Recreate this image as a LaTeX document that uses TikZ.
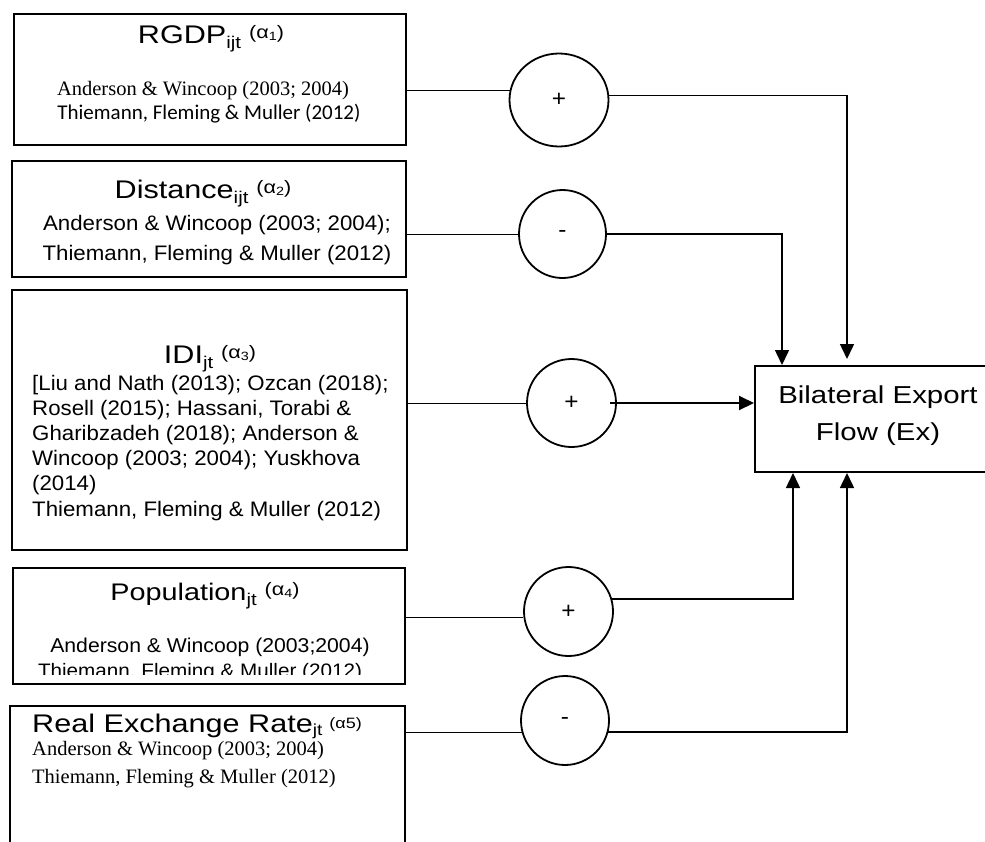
\documentclass[tikz,border=0pt]{standalone}
\usepackage{fontspec}
\setmainfont{Liberation Sans}[FakeStretch=1.06]
\newfontfamily\titlefont{Liberation Sans}[FakeStretch=1.2]
\newfontfamily\timesfont{Liberation Serif}
\newfontfamily\calibfont{Carlito}
\usetikzlibrary{arrows.meta, shapes.geometric}

\newcommand{\fsz}[1]{\fontsize{#1}{#1}\selectfont}
% variable name, its index and its coefficient
\newcommand{\varname}[3]{#1\raisebox{-5pt}{\fsz{17}#2}\hspace{8pt}\raisebox{4.5pt}{\fsz{18}(α\raisebox{-2pt}{\fsz{12}#3})}}

\begin{document}
\begin{tikzpicture}[x=1pt, y=-1pt,
    varbox/.style={draw, rectangle, line width=2pt, inner sep=0pt},
    sign/.style={draw, ellipse, line width=1.8pt, inner sep=0pt, font=\fsz{23}},
    txt/.style={anchor=base, inner sep=0pt},
    txtl/.style={anchor=base west, inner sep=0pt},
    title/.style={font=\titlefont\fsz{25.5}},
    link/.style={line width=0.9pt},
    flow/.style={line width=1.5pt, -{Triangle[length=15pt, width=14pt]}}]
    \useasboundingbox (0,0) rectangle (985,841);
    \clip (0,0) rectangle (985,841);

    % RGDP
    \node[varbox, minimum width=392pt, minimum height=131pt] (rgdp) at (210,79.5) {};
    \node[txt, title] (rgdptitle) at (211,43) {\varname{RGDP}{ijt}{1}};
    \node[txt, font=\timesfont\fsz{20.5}] (rgdpref1) at (203,95) {Anderson \& Wincoop (2003; 2004)};
    \node[txt, font=\calibfont\fsz{21}] (rgdpref2) at (209,119.5) {Thiemann, Fleming \& Muller (2012)};

    % Distance
    \node[varbox, minimum width=394pt, minimum height=116pt] (dist) at (209,219) {};
    \node[txt, title] (disttitle) at (203,198) {\varname{Distance}{ijt}{2}};
    \node[txt, font=\fsz{21}] (distref1) at (217,230) {Anderson \& Wincoop (2003; 2004);};
    \node[txt, font=\fsz{21}] (distref2) at (217,260) {Thiemann, Fleming \& Muller (2012)};

    % IDI
    \node[varbox, minimum width=395pt, minimum height=260pt] (idi) at (209.5,420) {};
    \node[txt, title] (idititle) at (210,363) {\varname{IDI}{jt}{3}};
    \node[txtl, font=\fsz{21}] (idiref1) at (32,390) {[Liu and Nath (2013); Ozcan (2018);};
    \node[txtl, font=\fsz{21}] (idiref2) at (32,415) {Rosell (2015); Hassani, Torabi \&};
    \node[txtl, font=\fsz{21}] (idiref3) at (32,440) {Gharibzadeh (2018); Anderson \&};
    \node[txtl, font=\fsz{21}] (idiref4) at (32,465) {Wincoop (2003; 2004); Yuskhova};
    \node[txtl, font=\fsz{21}] (idiref5) at (32,490) {(2014)};
    \node[txtl, font=\fsz{21}] (idiref6) at (32,516) {Thiemann, Fleming \& Muller (2012)};

    % Population
    \node[varbox, minimum width=392pt, minimum height=116pt] (pop) at (209,626) {};
    \node[txt, title, font=\titlefont\fsz{24}] (poptitle) at (205,600) {\varname{Population}{jt}{4}};
    \node[txt, font=\fsz{20}] (popref1) at (210,652) {Anderson \& Wincoop (2003;2004)};
    \begin{scope}
        \clip (0,560) rectangle (985,674);
        \node[txt, font=\fsz{19.5}] (popref2) at (200,677) {Thiemann, Fleming \& Muller (2012)};
    \end{scope}

    % Real exchange rate
    \node[varbox, minimum width=395pt, minimum height=154pt] (rer) at (207.5,783) {};
    \node[txtl, title] (rertitle) at (32,732) {Real Exchange Rate\raisebox{-3pt}{\fsz{16}jt}\hspace{7pt}\raisebox{4pt}{\fsz{15}(α5)}};
    \node[txtl, font=\timesfont\fsz{20.5}] (rerref1) at (32,755) {Anderson \& Wincoop (2003; 2004)};
    \node[txtl, font=\timesfont\fsz{20.5}] (rerref2) at (32,783) {Thiemann, Fleming \& Muller (2012)};

    % Bilateral export flow
    \node[varbox, minimum width=250pt, minimum height=106pt] (ex) at (880,419) {};
    \node[txt, font=\titlefont\fsz{24.5}] (extitle1) at (878,403) {Bilateral Export};
    \node[txt, font=\titlefont\fsz{24.5}] (extitle2) at (878,440) {Flow (Ex)};

    % signs
    \node[sign, minimum width=99pt, minimum height=93pt] (c1) at (559,100) {+};
    \node[sign, minimum width=87pt, minimum height=88pt] (c2) at (562.5,234) {-};
    \node[sign, minimum width=89pt, minimum height=88pt] (c3) at (571.5,403) {+};
    \node[sign, minimum width=89pt, minimum height=89pt] (c4) at (568.5,611.5) {+};
    \node[sign, minimum width=88pt, minimum height=89pt] (c5) at (565,720.5) {-};

    \coordinate (railA) at (847,0);
    \coordinate (railB) at (782,0);
    \coordinate (railC) at (793,0);

    % connectors
    \draw[link] (rgdp.east |- c1.169) -- (c1.169);
    \draw[flow, shorten >=6pt] (c1.5) -| (railA |- ex.north);
    \draw[link] (dist.east |- c2.west) -- (c2.west);
    \draw[flow] (c2.east) -| (railB |- ex.north);
    \draw[link] (idi.east |- c3.west) -- (c3.west);
    \draw[flow, line width=2pt] ([xshift=-7pt]c3.east) -- (ex.west |- c3.east);
    \draw[link] (pop.east |- c4.187) -- (c4.187);
    \draw[flow] (c4.16) -| (railC |- ex.south);
    \draw[link] (rer.east |- c5.195) -- (c5.195);
    \draw[flow] (c5.345) -| (railA |- ex.south);
\end{tikzpicture}
\end{document}
